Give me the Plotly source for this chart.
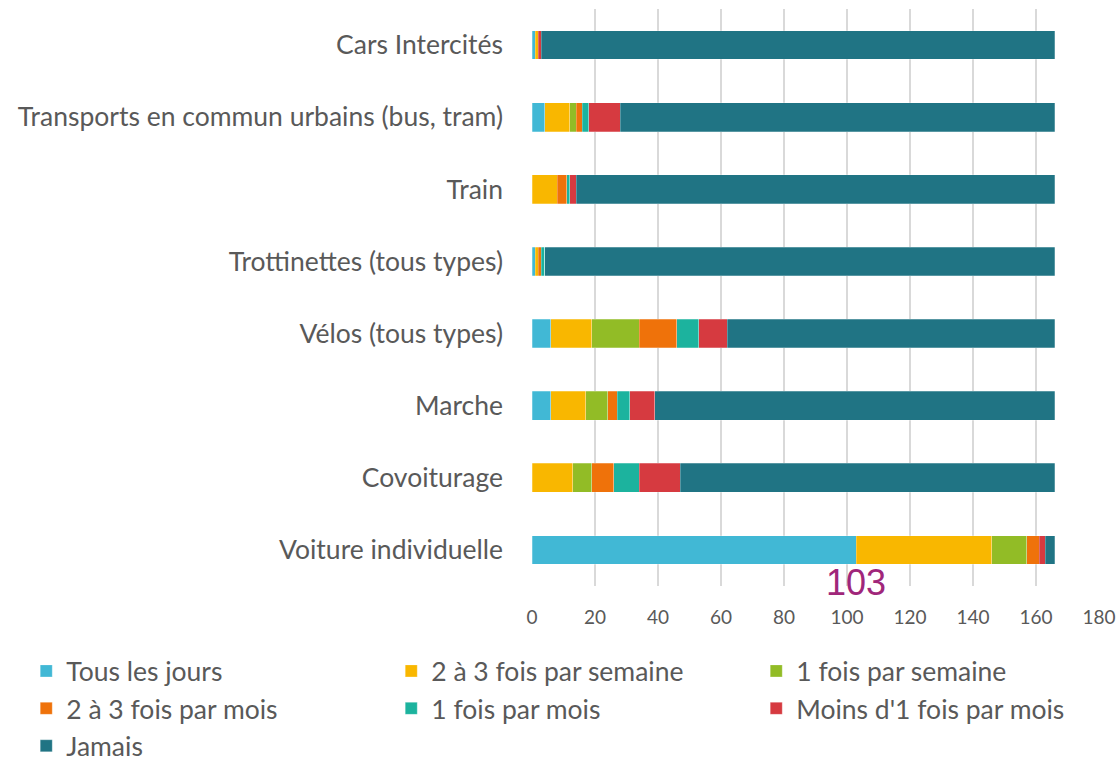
import plotly.graph_objects as go

categories = ["Cars Intercités", "Transports en commun urbains (bus, tram)", "Train",
              "Trottinettes (tous types)", "Vélos (tous types)", "Marche",
              "Covoiturage", "Voiture individuelle"]

series_names = ["Tous les jours", "2 à 3 fois par semaine", "1 fois par semaine",
                "2 à 3 fois par mois", "1 fois par mois", "Moins d'1 fois par mois", "Jamais"]

tous_les_jours = [1, 4, 0, 1, 6, 6, 0, 103]
deux_trois_semaine = [1, 8, 8, 1, 13, 11, 13, 43]
une_semaine = [0, 2, 0, 0, 15, 7, 6, 11]
deux_trois_mois = [0, 2, 3, 1, 12, 3, 7, 4]
une_mois = [0, 2, 1, 1, 7, 4, 8, 0]
moins_une_mois = [1, 10, 2, 0, 9, 8, 13, 2]
jamais = [163, 138, 152, 162, 104, 127, 119, 3]

colors = ["#41B8D5", "#F9B700", "#92BC26", "#EF720A", "#1CB39E", "#D63A40", "#207484"]

annotation_value = 103

series_values = [tous_les_jours, deux_trois_semaine, une_semaine, deux_trois_mois,
                 une_mois, moins_une_mois, jamais]

fig = go.Figure()
for name, vals, col in zip(series_names, series_values, colors):
    fig.add_trace(go.Bar(
        y=categories, x=vals, name=name, orientation="h",
        marker=dict(color=col, line=dict(color="rgba(255,255,255,0.5)", width=0.5)),
    ))

font_family = "Lato, 'Open Sans', sans-serif"
grey = "#595959"

fig.update_layout(
    barmode="stack",
    bargap=0.6,
    width=1119, height=764,
    paper_bgcolor="white", plot_bgcolor="white",
    margin=dict(l=532, r=20, t=9, b=178, autoexpand=False),
    font=dict(family=font_family, color=grey),
    xaxis=dict(range=[0, 180], dtick=20, showgrid=True, gridcolor="#D9D9D9", gridwidth=2,
               zeroline=False, tickfont=dict(size=19, color=grey), ticks="",
               showline=False, fixedrange=True, ticklabelstandoff=18, automargin=False,
               ticklabeloverflow="allow"),
    yaxis=dict(autorange="reversed", tickfont=dict(size=26.5, color=grey), ticks="",
               showline=False, ticklabelstandoff=28, automargin=False),
    legend=dict(orientation="h", x=-0.892, xanchor="left", y=-0.106, yanchor="top",
                font=dict(size=26.5, color=grey), entrywidth=320, entrywidthmode="pixels",
                traceorder="normal", itemclick=False),
    annotations=[dict(x=annotation_value, y="Voiture individuelle", yshift=-33,
                      text=str(annotation_value), showarrow=False,
                      font=dict(family="Liberation Sans, Arial", size=36, color="#A0267A"))],
)

fig.write_html("out.html", config={"displayModeBar": False},
               post_script="document.body.style.margin='0';")
